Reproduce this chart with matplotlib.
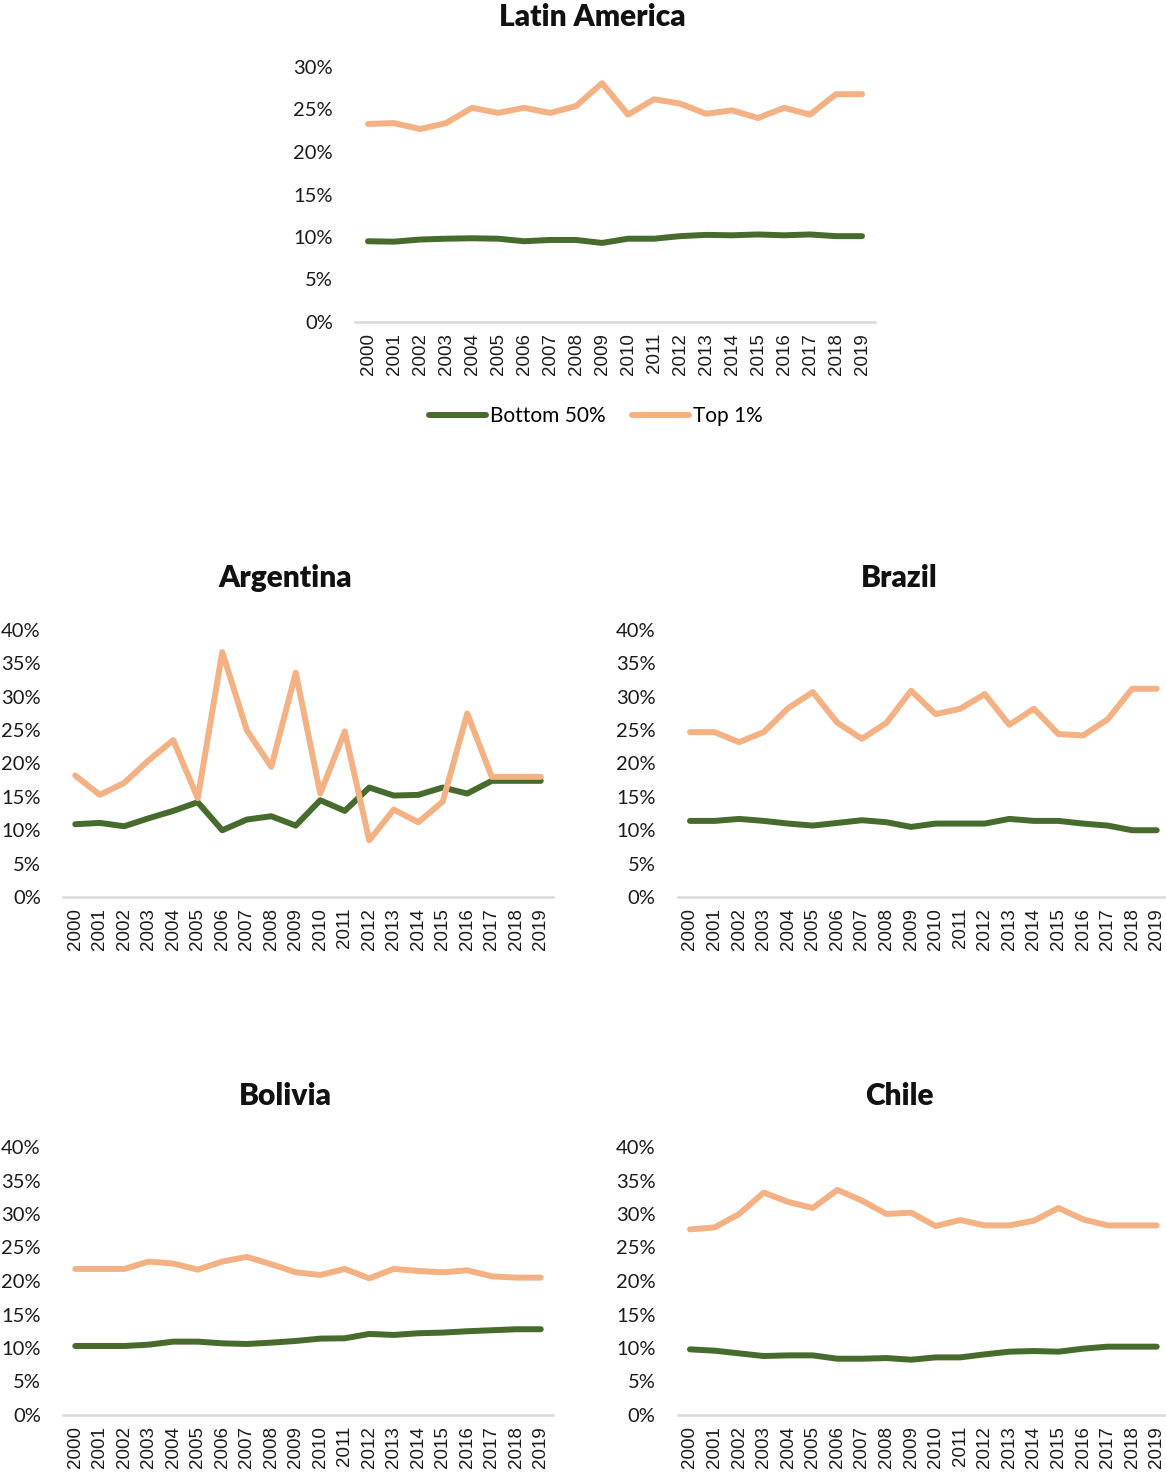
import numpy as np
import matplotlib
matplotlib.use("Agg")
import matplotlib.pyplot as plt
from matplotlib.ticker import FuncFormatter

years = [str(y) for y in range(2000, 2020)]

# shares in percent
latam_bottom = [9.5, 9.45, 9.7, 9.8, 9.85, 9.8, 9.5, 9.65, 9.65, 9.3,
                9.8, 9.8, 10.1, 10.25, 10.2, 10.3, 10.2, 10.3, 10.1, 10.1]
latam_top = [23.3, 23.4, 22.7, 23.4, 25.2, 24.6, 25.2, 24.6, 25.4, 28.1,
             24.4, 26.2, 25.7, 24.5, 24.9, 24.0, 25.2, 24.4, 26.8, 26.8]

arg_bottom = [10.9, 11.1, 10.6, 11.8, 12.9, 14.2, 10.0, 11.6, 12.1, 10.7,
              14.5, 12.9, 16.4, 15.2, 15.3, 16.4, 15.5, 17.4, 17.4, 17.4]
arg_top = [18.2, 15.3, 17.1, 20.5, 23.5, 14.8, 36.7, 25.0, 19.5, 33.6,
           15.5, 24.8, 8.5, 13.1, 11.2, 14.3, 27.5, 18.0, 18.0, 18.0]

bra_bottom = [11.4, 11.4, 11.7, 11.4, 11.0, 10.7, 11.1, 11.5, 11.2, 10.5,
              11.0, 11.0, 11.0, 11.7, 11.4, 11.4, 11.0, 10.7, 10.0, 10.0]
bra_top = [24.7, 24.7, 23.2, 24.7, 28.3, 30.7, 26.1, 23.7, 26.1, 30.9,
           27.4, 28.2, 30.4, 25.8, 28.2, 24.4, 24.2, 26.6, 31.2, 31.2]

bol_bottom = [10.3, 10.3, 10.3, 10.5, 10.95, 10.95, 10.7, 10.6, 10.8, 11.05,
              11.4, 11.45, 12.1, 11.95, 12.2, 12.3, 12.5, 12.65, 12.8, 12.8]
bol_top = [21.8, 21.8, 21.8, 22.9, 22.6, 21.7, 22.9, 23.6, 22.5, 21.3,
           20.9, 21.8, 20.4, 21.8, 21.5, 21.3, 21.6, 20.7, 20.5, 20.5]

chl_bottom = [9.8, 9.6, 9.2, 8.8, 8.9, 8.9, 8.4, 8.4, 8.5, 8.25,
              8.6, 8.6, 9.05, 9.45, 9.55, 9.45, 9.9, 10.2, 10.2, 10.2]
chl_top = [27.7, 28.0, 30.0, 33.2, 31.8, 30.9, 33.6, 32.0, 30.0, 30.2,
           28.2, 29.1, 28.3, 28.3, 29.0, 30.9, 29.2, 28.3, 28.3, 28.3]

GREEN = '#466B2C'
PEACH = '#F4B183'
W, H = 1166, 1475

plt.rcParams['font.family'] = ['Lato', 'DejaVu Sans']

fig = plt.figure(figsize=(W / 100, H / 100), dpi=100)


def px_axes(x0, x1, ytop, ybot):
    return fig.add_axes([x0 / W, 1 - ybot / H, (x1 - x0) / W, (ybot - ytop) / H])


def draw(ax, bottom, top, ymax, title, tx, ty):
    x = np.arange(len(years))
    ax.plot(x, bottom, color=GREEN, lw=4.3, solid_capstyle='round', label='Bottom 50%')
    ax.plot(x, top, color=PEACH, lw=4.3, solid_capstyle='round', label='Top 1%')
    ax.set_xlim(-0.5, len(years) - 0.5)
    ax.set_ylim(0, ymax)
    ax.set_yticks(np.arange(0, ymax + 1, 5))
    ax.yaxis.set_major_formatter(FuncFormatter(lambda v, p: f'{v:.0f}%'))
    ax.set_xticks(x)
    ax.set_xticklabels(years, rotation=90, fontfamily='Liberation Sans', fontsize=13.5)
    for s in ['top', 'right', 'left']:
        ax.spines[s].set_visible(False)
    ax.spines['bottom'].set_color('#D9D9D9')
    ax.spines['bottom'].set_linewidth(1.8)
    ax.tick_params(axis='x', length=0, pad=8, colors='#1a1a1a')
    ax.tick_params(axis='y', length=0, pad=16, labelsize=14.5, colors='#1a1a1a')
    fig.text(tx / W, 1 - ty / H, title, ha='center', va='center',
             fontsize=21.5, fontweight='heavy', color='#111111')


ax0 = px_axes(355, 875, 67, 322)
draw(ax0, latam_bottom, latam_top, 30, 'Latin America', 592, 17)

ax1 = px_axes(63, 553, 630, 897)
draw(ax1, arg_bottom, arg_top, 40, 'Argentina', 285, 578)

ax2 = px_axes(677.7, 1169, 630, 897)
draw(ax2, bra_bottom, bra_top, 40, 'Brazil', 899, 578)

ax3 = px_axes(63, 553, 1147, 1415)
draw(ax3, bol_bottom, bol_top, 40, 'Bolivia', 285, 1096)

ax4 = px_axes(677.7, 1169, 1147, 1415)
draw(ax4, chl_bottom, chl_top, 40, 'Chile', 899, 1096)

handles, labels = ax0.get_legend_handles_labels()
fig.legend(handles, labels, loc='center', bbox_to_anchor=(596 / W, 1 - 416 / H),
           ncol=2, frameon=False, fontsize=15, handlelength=2.7,
           handletextpad=0.2, columnspacing=1.3)

fig.savefig('out.png', dpi=100)
